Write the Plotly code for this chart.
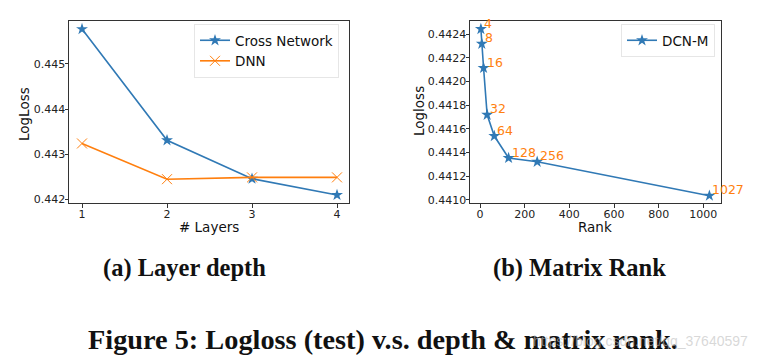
import plotly.graph_objects as go

# ---- data ----
layers = [1, 2, 3, 4]
cross_network = [0.44577, 0.44331, 0.44246, 0.44210]
dnn = [0.44324, 0.44245, 0.44249, 0.44249]

ranks = [4, 8, 16, 32, 64, 128, 256, 1027]
rank_labels = ["4", "8", "16", "32", "64", "128", "256", "1027"]
dcn_m = [0.442445, 0.44232, 0.442115, 0.441719, 0.441539, 0.441353, 0.441321, 0.441034]

left_yticks = [0.442, 0.443, 0.444, 0.445]
right_yticks = [0.4410, 0.4412, 0.4414, 0.4416, 0.4418, 0.4420, 0.4422, 0.4424]
right_xticks = [0, 200, 400, 600, 800, 1000]

BLUE = "#3079b5"
ORANGE = "#ff7f0e"
OFF = 8  # page body margin
W, H = 759 - OFF, 362 - OFF

def fx(px):
    return (px - OFF) / W

def fy(py):
    return 1 - (py - OFF) / H

fig = go.Figure()
fig.add_trace(go.Scatter(x=layers, y=cross_network, mode="lines+markers", name="Cross Network",
                         line=dict(color=BLUE, width=1.6),
                         marker=dict(symbol="star", size=9, color=BLUE),
                         xaxis="x", yaxis="y", legend="legend"))
fig.add_trace(go.Scatter(x=layers, y=dnn, mode="lines+markers", name="DNN",
                         line=dict(color=ORANGE, width=1.6),
                         marker=dict(symbol="x-thin-open", size=10, color=ORANGE,
                                     line=dict(color=ORANGE, width=1)),
                         xaxis="x", yaxis="y", legend="legend"))
fig.add_trace(go.Scatter(x=ranks, y=dcn_m, mode="lines+markers", name="DCN-M",
                         line=dict(color=BLUE, width=1.6),
                         marker=dict(symbol="star", size=9, color=BLUE),
                         xaxis="x2", yaxis="y2", legend="legend2"))

for r, v, lab in zip(ranks, dcn_m, rank_labels):
    fig.add_annotation(x=r, y=v, xref="x2", yref="y2", text=lab, showarrow=False,
                       xanchor="left", yanchor="middle", xshift=1, yshift=6,
                       font=dict(family="DejaVu Sans", size=12.5, color=ORANGE))

axis_common = dict(showline=True, linecolor="#333333", linewidth=1, mirror=True,
                   ticks="outside", ticklen=3.5, tickcolor="#333333", showgrid=False,
                   zeroline=False, automargin=False,
                   tickfont=dict(family="DejaVu Sans", size=11, color="#222222"))
xax = dict(ticklabelstandoff=-3, **axis_common)
yax = dict(ticklabelstandoff=-3, **axis_common)

fig.update_layout(
    width=W, height=H, margin=dict(l=0, r=0, t=0, b=0, autoexpand=False),
    paper_bgcolor="white", plot_bgcolor="white",
    xaxis=dict(domain=[fx(69), fx(349)], range=[0.847, 4.141], tickvals=layers,
               anchor="y", **xax),
    yaxis=dict(domain=[fy(203), fy(21)], range=[0.441923, 0.445949], tickvals=left_yticks,
               tickformat=".3f", anchor="x", **yax),
    xaxis2=dict(domain=[fx(470), fx(721)], range=[-44.8, 1079], tickvals=right_xticks,
                anchor="y2", **xax),
    yaxis2=dict(domain=[fy(203), fy(21)], range=[0.440972, 0.442513], tickvals=right_yticks,
                tickformat=".4f", anchor="x2", **yax),
    legend=dict(x=fx(194), y=fy(24), xanchor="left", yanchor="top",
                bgcolor="white", bordercolor="#e6e6e6", borderwidth=1,
                font=dict(family="DejaVu Sans", size=13.5, color="#111111"),
                itemwidth=30, tracegroupgap=0),
    legend2=dict(x=fx(621), y=fy(24), xanchor="left", yanchor="top",
                 bgcolor="white", bordercolor="#e6e6e6", borderwidth=1,
                 font=dict(family="DejaVu Sans", size=13.5, color="#111111"),
                 itemwidth=30),
    showlegend=True,
)

# axis titles
title_font = dict(family="DejaVu Sans", size=13.5, color="#111111")
for txt, x, y, ang in [("# Layers", 209, 227, 0), ("Rank", 595, 227, 0),
                       ("LogLoss", 24, 114, -90), ("Logloss", 419, 111, -90)]:
    fig.add_annotation(x=fx(x), y=fy(y), xref="paper", yref="paper", showarrow=False,
                       text=txt, textangle=ang, xanchor="center", yanchor="middle",
                       font=title_font)

cap_font = dict(family="Liberation Serif", size=24.5, color="#111111")
fig.add_annotation(x=fx(184.5), y=fy(268), xref="paper", yref="paper", showarrow=False,
                   text="<b>(a) Layer depth</b>", xanchor="center", yanchor="middle", font=cap_font)
fig.add_annotation(x=fx(579.5), y=fy(268), xref="paper", yref="paper", showarrow=False,
                   text="<b>(b) Matrix Rank</b>", xanchor="center", yanchor="middle", font=cap_font)
fig.add_annotation(x=fx(382.5), y=fy(339), xref="paper", yref="paper", showarrow=False,
                   text="<b>Figure 5: Logloss (test) v.s. depth &amp; matrix rank.</b>",
                   xanchor="center", yanchor="middle",
                   font=dict(family="Liberation Serif", size=28.3, color="#111111"))
fig.add_annotation(x=fx(750), y=fy(341), xref="paper", yref="paper", showarrow=False,
                   text="https://blog.csdn.net/qq_37640597", xanchor="right", yanchor="middle",
                   font=dict(family="Liberation Sans", size=14, color="rgba(190,190,190,0.6)"))

fig.write_html("out.html")
